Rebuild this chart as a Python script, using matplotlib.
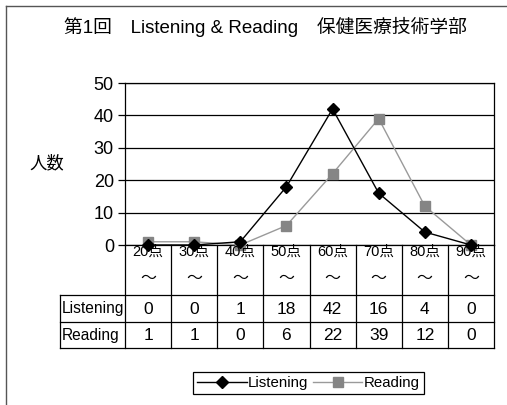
import matplotlib
matplotlib.use("Agg")
import matplotlib.pyplot as plt
from matplotlib.lines import Line2D
from matplotlib.transforms import blended_transform_factory

plt.rcParams['font.family'] = ['Liberation Sans', 'Noto Sans CJK JP', 'DejaVu Sans']

title = "第1回\u3000Listening & Reading\u3000保健医療技術学部"
categories = ["20点", "30点", "40点", "50点", "60点", "70点", "80点", "90点"]
listening = [0, 0, 1, 18, 42, 16, 4, 0]
reading = [1, 1, 0, 6, 22, 39, 12, 0]
series_names = ["Listening", "Reading"]
yticks = [0, 10, 20, 30, 40, 50]

W, H = 507, 405
fig = plt.figure(figsize=(W / 100, H / 100), dpi=100)

# plot area in pixels
L, R, T, B = 125, 494, 83, 245
ax = fig.add_axes([L / W, 1 - B / H, (R - L) / W, (B - T) / H])
n = len(categories)
x = list(range(n))
ax.set_xlim(-0.5, n - 0.5)
ax.set_ylim(0, 50)
ax.set_yticks(yticks)
ax.set_xticks([])
ax.yaxis.grid(True, color='black', linewidth=0.9)
ax.set_axisbelow(True)
for s in ax.spines.values():
    s.set_color('black')
    s.set_linewidth(0.9)
ax.tick_params(axis='y', direction='out', length=5, width=0.9, labelsize=13, pad=3)

l1, = ax.plot(x, listening, color='black', lw=1.0, marker='D', ms=6.5,
              mfc='black', mec='black', clip_on=False, zorder=4)
l2, = ax.plot(x, reading, color='#9a9a9a', lw=1.0, marker='s', ms=7,
              mfc='#858585', mec='#858585', clip_on=False, zorder=3)

# table below axes
tr = blended_transform_factory(ax.transData, ax.transAxes)
def ya(py):
    return (B - py) / (B - T)

y_cat_bot, y_l_bot, y_r_bot = 295, 322, 348
x_left = -0.5 + (60 - L) / ((R - L) / n)
lk = dict(color='black', lw=0.9, transform=tr, clip_on=False)
for k in range(n + 1):
    ax.add_line(Line2D([k - 0.5, k - 0.5], [ya(B), ya(y_r_bot)], **lk))
for py in (y_cat_bot, y_l_bot, y_r_bot):
    ax.add_line(Line2D([x_left, n - 0.5], [ya(py), ya(py)], **lk))
ax.add_line(Line2D([x_left, x_left], [ya(y_cat_bot), ya(y_r_bot)], **lk))

for i, c in enumerate(categories):
    ax.text(i, ya(252), c, ha='center', va='center', fontsize=10.5, transform=tr, zorder=5)
    ax.text(i, ya(278), "～", ha='center', va='center', fontsize=11.5, transform=tr,
            family=['Noto Sans CJK JP'])
    ax.text(i, ya(309), str(listening[i]), ha='center', va='center', fontsize=12.5, transform=tr)
    ax.text(i, ya(335.5), str(reading[i]), ha='center', va='center', fontsize=12.5, transform=tr)

ax.text(x_left + 0.03, ya(309), series_names[0], ha='left', va='center', fontsize=11.2,
        transform=tr)
ax.text(x_left + 0.03, ya(335.5), series_names[1], ha='left', va='center', fontsize=11.2,
        transform=tr)

# title and y label
fig.text(265 / W, 1 - 27 / H, title, ha='center', va='center', fontsize=13.5)
fig.text(47 / W, 1 - 163 / H, "人数", ha='center', va='center', fontsize=12.5)

# outer border (top and left)
fig.add_artist(Line2D([6 / W, 1], [1 - 6 / H, 1 - 6 / H], color='#555555', lw=1.0))
fig.add_artist(Line2D([6 / W, 6 / W], [0, 1 - 6 / H], color='#555555', lw=1.0))

leg = fig.legend([l1, l2], series_names, loc='center', bbox_to_anchor=(308.5 / W, 1 - 383 / H),
                 ncol=2, frameon=True, fancybox=False, edgecolor='black', framealpha=1,
                 handlelength=3.3, handletextpad=0.1, columnspacing=0.3, borderpad=0.25,
                 borderaxespad=0, numpoints=1, prop={'size': 10.8})
leg.get_frame().set_linewidth(0.9)

fig.savefig("out.png", dpi=100)
